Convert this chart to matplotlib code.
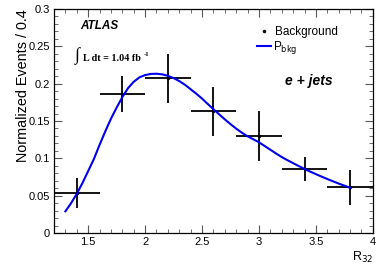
import matplotlib
matplotlib.use("Agg")
import matplotlib.pyplot as plt
from matplotlib.ticker import MultipleLocator

# Data
bin_centers = [1.4, 1.8, 2.2, 2.6, 3.0, 3.4, 3.8]
bin_halfwidth = [0.2] * 7
bkg_values = [0.054, 0.186, 0.207, 0.163, 0.130, 0.086, 0.061]
bkg_errors = [0.020, 0.024, 0.033, 0.033, 0.033, 0.016, 0.024]

curve_x = [1.30, 1.35, 1.40, 1.45, 1.50, 1.55, 1.60, 1.65, 1.70, 1.75,
           1.80, 1.85, 1.90, 1.95, 2.00, 2.05, 2.10, 2.15, 2.20, 2.25,
           2.30, 2.35, 2.40, 2.45, 2.50, 2.55, 2.60, 2.65, 2.70, 2.75,
           2.80, 2.85, 2.90, 2.95, 3.00, 3.05, 3.10, 3.15, 3.20, 3.25,
           3.30, 3.35, 3.40, 3.45, 3.50, 3.55, 3.60, 3.65, 3.70, 3.75, 3.80]
curve_y = [0.0290, 0.0400, 0.0525, 0.0670, 0.0830, 0.0990, 0.1180, 0.1360,
           0.1530, 0.1680, 0.1820, 0.1940, 0.2025, 0.2085, 0.2115, 0.2130,
           0.2133, 0.2125, 0.2105, 0.2075, 0.2035, 0.1985, 0.1925, 0.1865,
           0.1800, 0.1728, 0.1658, 0.1590, 0.1522, 0.1458, 0.1398, 0.1343,
           0.1295, 0.1255, 0.1215, 0.1165, 0.1115, 0.1065, 0.1017, 0.0975,
           0.0935, 0.0896, 0.0858, 0.0822, 0.0788, 0.0755, 0.0723, 0.0692,
           0.0662, 0.0634, 0.0606]

plt.rcParams['font.family'] = ['Liberation Sans', 'DejaVu Sans']

fig = plt.figure(figsize=(3.9, 2.65), dpi=100)
ax = fig.add_axes([0.1385, 0.1208, 0.956 - 0.1385, 0.966 - 0.1208])

ax.errorbar(bin_centers, bkg_values, xerr=bin_halfwidth, yerr=bkg_errors,
            fmt='o', color='black', ms=1.5, elinewidth=1.3, capsize=0, zorder=2)
ax.plot(curve_x, curve_y, color='#0000ee', lw=1.5, zorder=3)

ax.set_xlim(1.2, 4.0)
ax.set_ylim(0, 0.3)
ax.xaxis.set_minor_locator(MultipleLocator(0.1))
ax.yaxis.set_minor_locator(MultipleLocator(0.01))
ax.set_xticks([1.5, 2, 2.5, 3, 3.5, 4])
ax.set_xticklabels(['1.5', '2', '2.5', '3', '3.5', '4'])
ax.set_yticks([0, 0.05, 0.1, 0.15, 0.2, 0.25, 0.3])
ax.set_yticklabels(['0', '0.05', '0.1', '0.15', '0.2', '0.25', '0.3'])
ax.tick_params(which='both', direction='in', top=True, right=True,
               labelsize=8, color='#555555', pad=3)
ax.tick_params(which='major', length=6, width=0.8)
ax.tick_params(which='minor', length=3, width=0.6)
for s in ax.spines.values():
    s.set_linewidth(0.9)

ax.set_ylabel('Normalized Events / 0.4', fontsize=10.4, loc='top')
ax.yaxis.set_label_coords(-0.075, 0.997)
ax.set_xlabel('R$_{32}$', fontsize=9, loc='right', labelpad=2)

ax.text(1.43, 0.2736, 'ATLAS', fontsize=8.5, fontweight='bold', style='italic',
        va='baseline', ha='left')
ax.text(1.385, 0.2375, '\u222b', fontsize=13, family='Liberation Serif',
        va='center', ha='left')
ax.text(1.455, 0.230, 'L dt = 1.04 fb', fontsize=7.3,
        family='Liberation Serif', fontweight='bold', va='baseline', ha='left')
ax.text(1.985, 0.2375, '-1', fontsize=4.8,
        family='Liberation Serif', fontweight='bold', va='baseline', ha='left')

ax.plot([3.04], [0.2707], 'o', color='black', ms=1.5)
ax.text(3.14, 0.2655, 'Background', fontsize=8.5, va='baseline', ha='left')
ax.plot([2.98, 3.105], [0.2499, 0.2499], color='#0000ee', lw=1.5)
ax.text(3.123, 0.2458, 'P$_{\\rm bkg}$', fontsize=8.5, va='baseline', ha='left')
ax.text(3.228, 0.1985, 'e + jets', fontsize=10, fontweight='bold',
        style='italic', va='baseline', ha='left')

fig.savefig('out.png', dpi=100)
